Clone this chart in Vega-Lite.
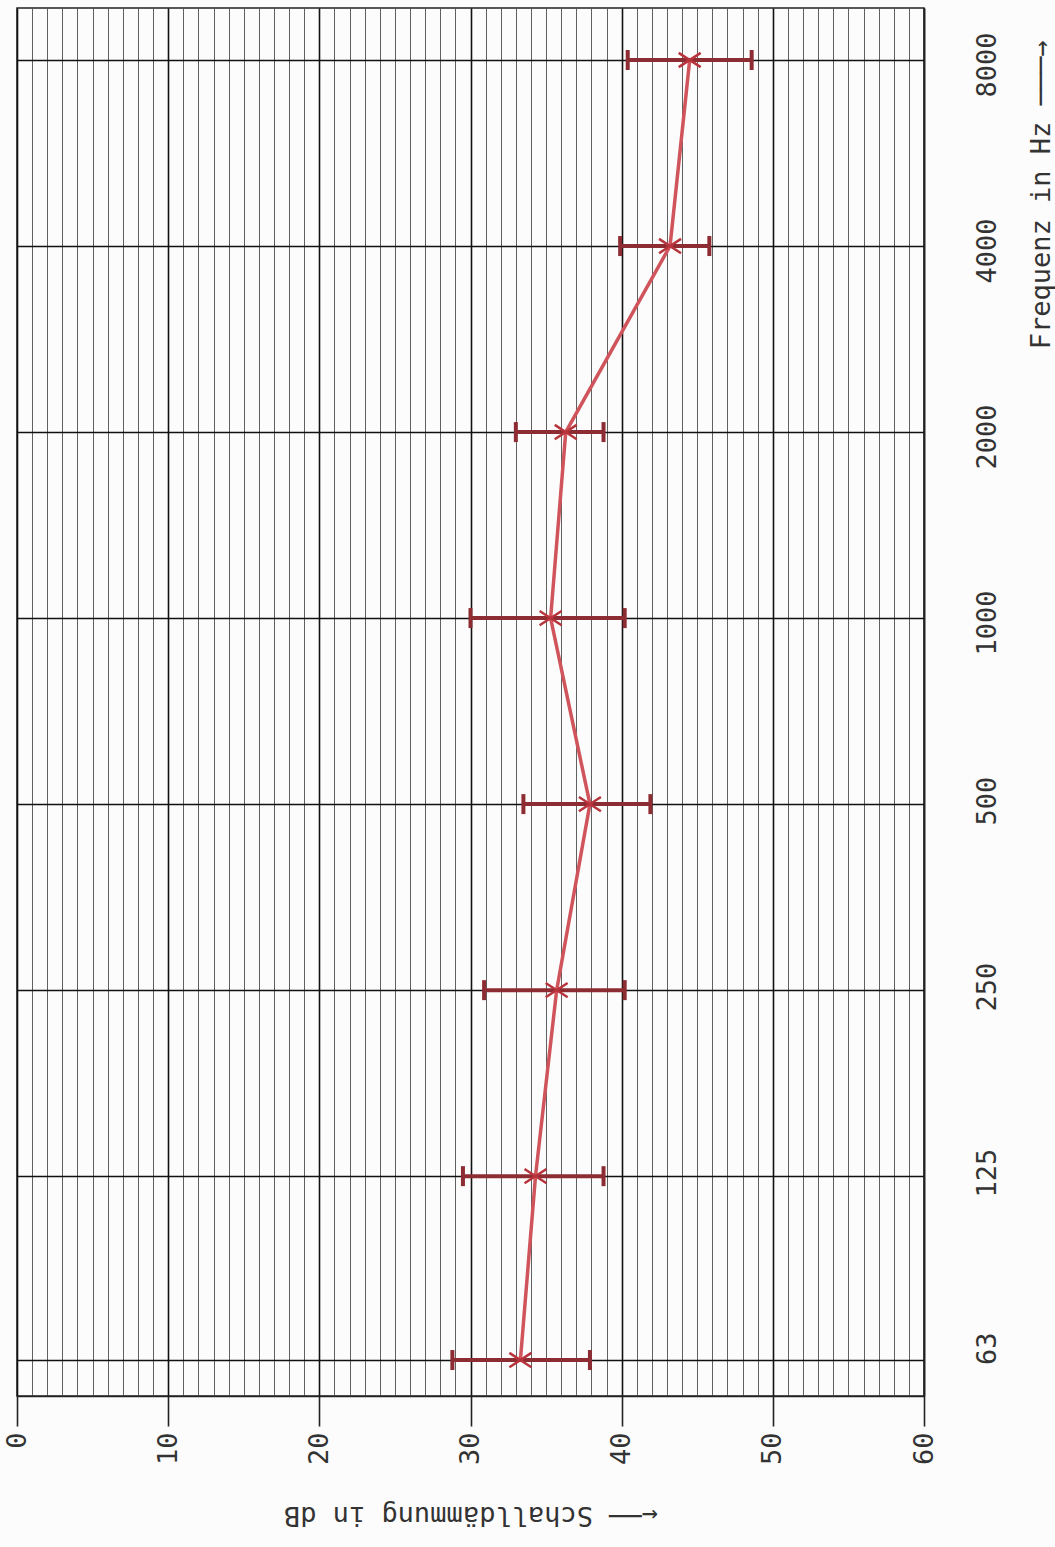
{
  "$schema": "https://vega.github.io/schema/vega-lite/v6.json",
  "autosize": {"type": "none"},
  "width": 907,
  "height": 1388,
  "padding": {"left": 17, "top": 8, "right": 131, "bottom": 151},
  "background": "#fcfcfc",
  "config": {
    "view": {"stroke": "#222222", "strokeWidth": 1.5},
    "axis": {"labelFont": "DejaVu Sans Mono", "titleFont": "DejaVu Sans Mono", "labelColor": "#333333", "titleColor": "#333333", "titleFontWeight": "normal"}
  },
  "data": {
    "values": [
      {"freq": 63, "value": 33.3, "low": 28.8, "high": 37.9},
      {"freq": 125, "value": 34.3, "low": 29.5, "high": 38.8},
      {"freq": 250, "value": 35.7, "low": 30.9, "high": 40.2},
      {"freq": 500, "value": 37.9, "low": 33.5, "high": 41.9},
      {"freq": 1000, "value": 35.3, "low": 30.0, "high": 40.2},
      {"freq": 2000, "value": 36.3, "low": 33.0, "high": 38.8},
      {"freq": 4000, "value": 43.2, "low": 39.9, "high": 45.8},
      {"freq": 8000, "value": 44.5, "low": 40.4, "high": 48.6}
    ]
  },
  "resolve": {"axis": {"x": "independent", "y": "independent"}},
  "layer": [
    {
      "mark": {"type": "rule", "color": "#8e2c33", "strokeWidth": 4},
      "encoding": {
        "x": {
          "field": "low", "type": "quantitative",
          "scale": {"domain": [0, 60], "nice": false, "zero": false},
          "axis": {
            "orient": "top", "values": [0,1,2,3,4,5,6,7,8,9,10,11,12,13,14,15,16,17,18,19,20,21,22,23,24,25,26,27,28,29,30,31,32,33,34,35,36,37,38,39,40,41,42,43,44,45,46,47,48,49,50,51,52,53,54,55,56,57,58,59,60],
            "grid": true, "gridColor": "#444444", "gridWidth": 1, "gridOpacity": 0.85,
            "labels": false, "ticks": false, "domain": false, "title": null
          }
        },
        "x2": {"field": "high"},
        "y": {
          "field": "freq", "type": "quantitative",
          "scale": {"type": "log", "domain": [55.1, 9711], "nice": false, "zero": false},
          "axis": null
        }
      }
    },
    {
      "mark": {"type": "point", "shape": "M0,-1L0,1", "size": 400, "stroke": "#8e2c33", "strokeWidth": 4, "filled": false, "opacity": 1},
      "encoding": {
        "x": {"field": "low", "type": "quantitative", "scale": {"domain": [0, 60], "nice": false, "zero": false}, "axis": null},
        "y": {"field": "freq", "type": "quantitative", "scale": {"type": "log", "domain": [55.1, 9711], "nice": false, "zero": false}, "axis": null}
      }
    },
    {
      "mark": {"type": "point", "shape": "M0,-1L0,1", "size": 400, "stroke": "#8e2c33", "strokeWidth": 4, "filled": false, "opacity": 1},
      "encoding": {
        "x": {"field": "high", "type": "quantitative", "scale": {"domain": [0, 60], "nice": false, "zero": false}, "axis": null},
        "y": {"field": "freq", "type": "quantitative", "scale": {"type": "log", "domain": [55.1, 9711], "nice": false, "zero": false}, "axis": null}
      }
    },
    {
      "mark": {"type": "line", "color": "#d0545b", "strokeWidth": 3.5},
      "encoding": {
        "x": {
          "field": "value", "type": "quantitative",
          "scale": {"domain": [0, 60], "nice": false, "zero": false},
          "axis": {
            "orient": "bottom", "values": [0, 10, 20, 30, 40, 50, 60],
            "grid": true, "gridColor": "#111111", "gridWidth": 1.6,
            "domain": true, "domainColor": "#222222", "domainWidth": 1.5,
            "ticks": true, "tickSize": 30, "tickColor": "#222222", "tickWidth": 1.6,
            "labelAngle": 270, "labelAlign": "right", "labelBaseline": "middle",
            "labelPadding": 6, "labelFontSize": 27, "labelOverlap": false, "labelFlush": false,
            "title": "←──  Schalldämmung in dB", "titleFontSize": 27, "titleAngle": 180,
            "titleBaseline": "bottom", "titleAlign": "center", "titleY": 104
          }
        },
        "y": {
          "field": "freq", "type": "quantitative",
          "scale": {"type": "log", "domain": [55.1, 9711], "nice": false, "zero": false},
          "axis": {
            "orient": "right", "values": [63, 125, 250, 500, 1000, 2000, 4000, 8000], "format": "d",
            "grid": true, "gridColor": "#111111", "gridWidth": 1.6,
            "domain": true, "domainColor": "#222222", "domainWidth": 1.5,
            "ticks": false, "tickSize": 0,
            "labelAngle": 270, "labelAlign": "right", "labelBaseline": "top",
            "labelPadding": 50, "labelOffset": -28, "labelFontSize": 27, "labelOverlap": false, "labelFlush": false,
            "title": "Frequenz in Hz  ───→", "titleFontSize": 27, "titleAngle": 270,
            "titleAlign": "right", "titleBaseline": "top", "titleX": 104, "titleY": 32
          }
        },
        "order": {"field": "freq", "type": "quantitative"}
      }
    },
    {
      "mark": {"type": "point", "shape": "M-1,-0.65L1,0.65M-1,0.65L1,-0.65", "size": 484, "stroke": "#b8343c", "strokeWidth": 2.5, "filled": false, "opacity": 1},
      "encoding": {
        "x": {"field": "value", "type": "quantitative", "scale": {"domain": [0, 60], "nice": false, "zero": false}, "axis": null},
        "y": {"field": "freq", "type": "quantitative", "scale": {"type": "log", "domain": [55.1, 9711], "nice": false, "zero": false}, "axis": null}
      }
    }
  ]
}
